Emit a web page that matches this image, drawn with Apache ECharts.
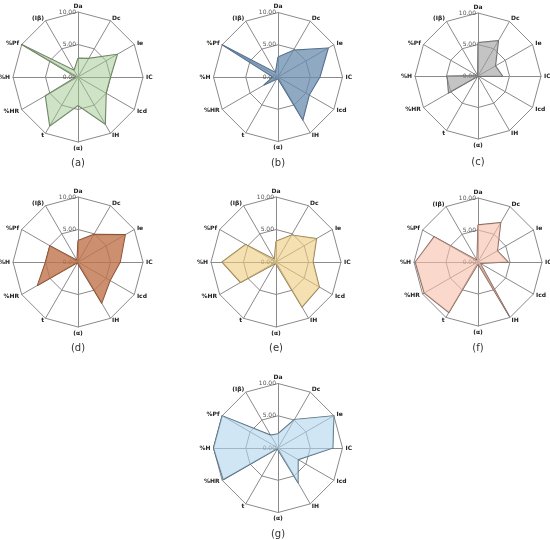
<!DOCTYPE html>
<html>
<head>
<meta charset="utf-8">
<script src="https://cdn.jsdelivr.net/npm/echarts@6/dist/echarts.min.js"></script>
<style>html,body{margin:0;padding:0;background:#fff}#c{width:550px;height:540px}</style>
</head>
<body>
<div id="c"></div>
<script>
// Indicators listed clockwise from the top
var indicators = ['Da', 'Dc', 'Ie', 'IC', 'Icd', 'IH', '(\u03b1)', 't', '%HR', '%H', '%Pf', '(I\u03b2)'];
var tickLabels = ['0.00', '5.00', '10.00'];
var panelLabels = ['(a)', '(b)', '(c)', '(d)', '(e)', '(f)', '(g)'];
// values, clockwise order matching indicators
var valuesA = [2.9, 3.3, 7.0, 5.0, 5.0, 8.4, 4.4, 8.7, 5.8, 0.3, 10.0, 1.2];
var valuesB = [3.1, 4.8, 9.0, 6.5, 5.6, 7.7, 0.3, 0.4, 2.5, 0.8, 10.0, 0.8];
var valuesC = [5.3, 6.5, 3.2, 3.9, 0.1, 0.1, 0.1, 0.1, 5.4, 4.9, 0.1, 0.1];
var valuesD = [3.3, 4.9, 8.4, 6.5, 5.7, 7.3, 0.3, 0.1, 7.2, 5.0, 5.0, 0.3];
var valuesE = [3.2, 4.8, 7.2, 5.7, 7.7, 8.0, 0.3, 0.3, 6.3, 8.3, 5.4, 0.5];
var valuesF = [5.8, 7.1, 3.5, 4.7, 0.4, 9.7, 0.3, 9.1, 9.7, 9.8, 7.9, 0.3];
var valuesG = [2.2, 5.1, 10.0, 8.5, 3.6, 6.2, 0.3, 0.1, 9.8, 10.0, 10.0, 2.3];
var allValues = [valuesA, valuesB, valuesC, valuesD, valuesE, valuesF, valuesG];

// styles (not data)
var centers = [[78, 77], [278, 77], [478, 76], [78, 262], [276, 262], [478, 262], [278, 448]];
var radii = [65, 64.5, 63, 65, 65, 64, 64.5];
var captionPos = [[78, 163], [278, 163], [478, 162], [78, 348], [276, 348], [478, 348], [278, 534]];
var fills = ['#a0c890', '#698cad', '#9d9d9d', '#bf744c', '#edcb7b', '#f7beaa', '#b1d5ed'];
var fillOp = [0.5, 0.75, 0.6, 0.8, 0.6, 0.6, 0.6];
var strokes = ['#66795e', '#4d6680', '#666666', '#7a4a33', '#8a7a55', '#7a6058', '#4d6678'];

function ccw(arr) { // ECharts places indicators counter-clockwise
  var out = [arr[0]];
  for (var i = arr.length - 1; i >= 1; i--) out.push(arr[i]);
  return out;
}

var FONT = 'DejaVu Sans';
var radars = [], series = [], graphics = [];
for (var k = 0; k < 7; k++) {
  var ind = ccw(indicators).map(function (n, i) {
    var o = { name: n, min: 0, max: 10 };
    if (i === 0) {
      o.axisLabel = {
        show: true, fontSize: 6, color: '#555', fontFamily: FONT, margin: 2,
        formatter: function (v) { return tickLabels[Math.round(v / 5)] || v.toFixed(2); }
      };
    }
    return o;
  });
  radars.push({
    center: centers[k], radius: radii[k], startAngle: 90, splitNumber: 2,
    shape: 'polygon', indicator: ind, nameGap: 3,
    axisName: { color: '#222', fontSize: 6, fontWeight: 'bold', fontFamily: FONT },
    axisLine: { lineStyle: { color: '#8a8a8a', width: 1 } },
    splitLine: { lineStyle: { color: '#8a8a8a', width: 1 } },
    splitArea: { show: false },
    axisLabel: { show: false },
    axisTick: { show: false }
  });
  series.push({
    type: 'radar', radarIndex: k, symbol: 'none', silent: true,
    lineStyle: { color: strokes[k], width: 1.2 },
    areaStyle: { color: fills[k], opacity: fillOp[k] },
    data: [{ value: ccw(allValues[k]) }]
  });
  graphics.push({
    type: 'text', x: captionPos[k][0], y: captionPos[k][1],
    style: { text: panelLabels[k], fontSize: 10, fontFamily: FONT, fill: '#333', textAlign: 'center', textVerticalAlign: 'middle' }
  });
}

var chart = echarts.init(document.getElementById('c'), null, { renderer: 'canvas' });
chart.setOption({ animation: false, radar: radars, series: series, graphic: graphics });
</script>
</body>
</html>
